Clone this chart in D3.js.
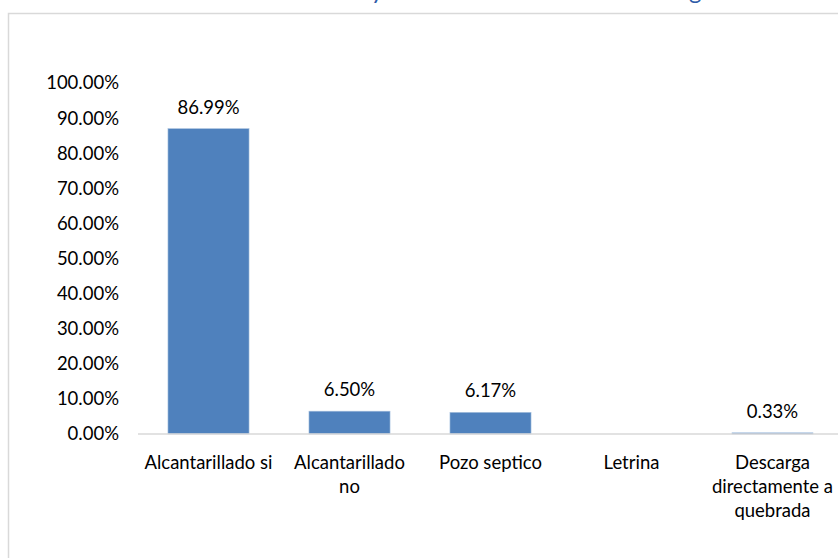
<!DOCTYPE html>
<html>
<head>
<meta charset="utf-8">
<script src="https://cdn.jsdelivr.net/npm/d3@7"></script>
<style>
  body { margin: 0; background: #fff; }
  svg { display: block; }
</style>
</head>
<body>
<div id="chart"></div>
<script>

const categories = ['Alcantarillado si', 'Alcantarillado\nno', 'Pozo septico', 'Letrina', 'Descarga\ndirectamente a\nquebrada'];
const values = [0.8699, 0.065, 0.0617, null, 0.0033];
const yTicks = [0, 0.1, 0.2, 0.3, 0.4, 0.5, 0.6, 0.7, 0.8, 0.9, 1];

const width = 838;
const height = 558;
const font = 'Lato, "Open Sans", sans-serif';
const fontSize = '18.5px';

const svg = d3.select('#chart')
  .append('svg')
  .attr('width', width)
  .attr('height', height);

svg.append('rect')
  .attr('width', width)
  .attr('height', height)
  .attr('fill', '#fff');

// chart area border (right and bottom are off the picture)
svg.append('rect')
  .attr('x', 8.5)
  .attr('y', 13.5)
  .attr('width', 900)
  .attr('height', 600)
  .attr('fill', 'none')
  .attr('stroke', '#d9d9d9')
  .attr('stroke-width', 1.5);

// title is cut off above the picture, only descenders show
const title = svg.append('g')
  .attr('fill', '#2e5ca8')
  .attr('font-family', font)
  .attr('font-size', '24px');
title.append('text').attr('x', 371).attr('y', -1).text('y');
title.append('text').attr('x', 689).attr('y', -1).text('g');

const x = d3.scaleBand()
  .domain(categories)
  .range([138, 843])
  .paddingInner(0.425)
  .paddingOuter(0.2125);

const y = d3.scaleLinear()
  .domain([0, 1])
  .range([434, 83]);

const data = categories.map((c, i) => ({ cat: c, value: values[i] }));

// y labels (no axis line, no gridlines)
svg.append('g')
  .selectAll('text')
  .data(yTicks)
  .enter()
  .append('text')
  .attr('x', 119)
  .attr('y', d => y(d))
  .attr('dy', '0.35em')
  .attr('text-anchor', 'end')
  .attr('font-family', font)
  .attr('font-size', fontSize)
  .attr('fill', '#000')
  .text(d => d3.format('.2%')(d));

// bars
svg.append('g')
  .selectAll('rect')
  .data(data)
  .enter()
  .append('rect')
  .attr('x', d => x(d.cat))
  .attr('y', d => y(d.value || 0))
  .attr('width', x.bandwidth())
  .attr('height', d => y(0) - y(d.value || 0))
  .attr('fill', '#4f81bd')
  .attr('stroke', '#a7c0de')
  .attr('stroke-width', 0.6);

// baseline
svg.append('line')
  .attr('x1', x.range()[0])
  .attr('x2', x.range()[1])
  .attr('y1', y(0))
  .attr('y2', y(0))
  .attr('stroke', '#d9d9d9')
  .attr('stroke-width', 1.5);

// value labels
svg.append('g')
  .selectAll('text')
  .data(data.filter(d => d.value !== null))
  .enter()
  .append('text')
  .attr('x', d => x(d.cat) + x.bandwidth() / 2)
  .attr('y', d => y(d.value) - 15)
  .attr('text-anchor', 'middle')
  .attr('font-family', font)
  .attr('font-size', fontSize)
  .attr('fill', '#000')
  .text(d => d3.format('.2%')(d.value));

// category labels, wrapped as in the original
const cat = svg.append('g')
  .selectAll('text')
  .data(categories)
  .enter()
  .append('text')
  .attr('x', d => x(d) + x.bandwidth() / 2)
  .attr('y', 469)
  .attr('text-anchor', 'middle')
  .attr('font-family', font)
  .attr('font-size', fontSize)
  .attr('fill', '#000');

cat.selectAll('tspan')
  .data(d => d.split('\n').map(line => ({ line, cx: x(d) + x.bandwidth() / 2 })))
  .enter()
  .append('tspan')
  .attr('x', d => d.cx)
  .attr('dy', (_, i) => i === 0 ? 0 : 24)
  .text(d => d.line);

</script>
</body>
</html>
